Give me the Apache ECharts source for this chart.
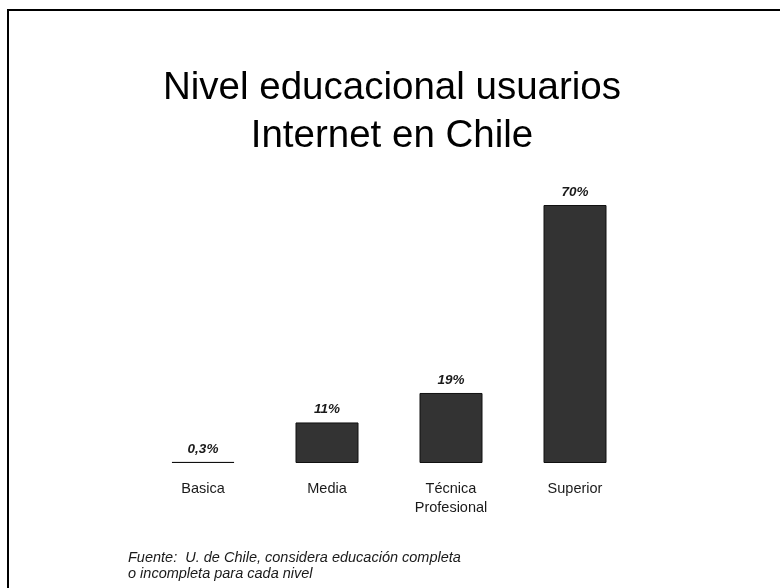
<!DOCTYPE html>
<html>
<head>
<meta charset="utf-8">
<script src="https://cdn.jsdelivr.net/npm/echarts@6/dist/echarts.min.js"></script>
<style>
  html, body { margin: 0; padding: 0; background: #ffffff; }
  #chart { width: 780px; height: 588px; }
</style>
</head>
<body>
<div id="chart"></div>
<script>
// Education level of Internet users in Chile (percent of users)
const categories = ['Basica', 'Media', 'Técnica\nProfesional', 'Superior'];
const shares = [0.3, 11, 19, 70];
const shareLabels = ['0,3%', '11%', '19%', '70%'];

const titleLines = ['Nivel educacional usuarios', 'Internet en Chile'];
const sourceNote = 'Fuente:  U. de Chile, considera educación completa\no incompleta para cada nivel';

const chart = echarts.init(document.getElementById('chart'), null, { renderer: 'canvas' });

chart.setOption({
  backgroundColor: '#ffffff',
  animation: false,
  title: {
    text: titleLines.join('\n'),
    left: 387,
    top: 59,
    textAlign: 'center',
    textStyle: {
      fontFamily: 'Liberation Sans, Arial, sans-serif',
      fontSize: 38.5,
      fontWeight: 'normal',
      color: '#000000',
      lineHeight: 48
    }
  },
  grid: { left: 141, right: 143, top: 205, bottom: 125 },
  xAxis: {
    type: 'category',
    data: categories,
    axisLine: { show: false },
    axisTick: { show: false },
    axisLabel: {
      margin: 16,
      fontFamily: 'Liberation Sans, Arial, sans-serif',
      fontSize: 14.5,
      color: '#1a1a1a',
      lineHeight: 19
    }
  },
  yAxis: {
    type: 'value',
    min: 0,
    max: 70,
    show: false
  },
  series: [{
    type: 'bar',
    data: shares,
    barWidth: 63,
    itemStyle: { color: '#333333', borderColor: '#111111', borderWidth: 1 },
    label: {
      show: true,
      position: 'top',
      distance: 6,
      formatter: (p) => shareLabels[p.dataIndex],
      fontFamily: 'Liberation Sans, Arial, sans-serif',
      fontSize: 13.5,
      fontWeight: 'bold',
      fontStyle: 'italic',
      color: '#1a1a1a'
    }
  }],
  graphic: [
    {
      type: 'rect',
      shape: { x: 8, y: 10, width: 900, height: 800 },
      style: { fill: 'none', stroke: '#000000', lineWidth: 2 },
      silent: true
    },
    {
      type: 'text',
      left: 128,
      top: 550,
      style: {
        text: sourceNote,
        fontFamily: 'Liberation Sans, Arial, sans-serif',
        fontSize: 14.5,
        fontStyle: 'italic',
        fill: '#1a1a1a',
        lineHeight: 16
      }
    }
  ]
});
</script>
</body>
</html>
